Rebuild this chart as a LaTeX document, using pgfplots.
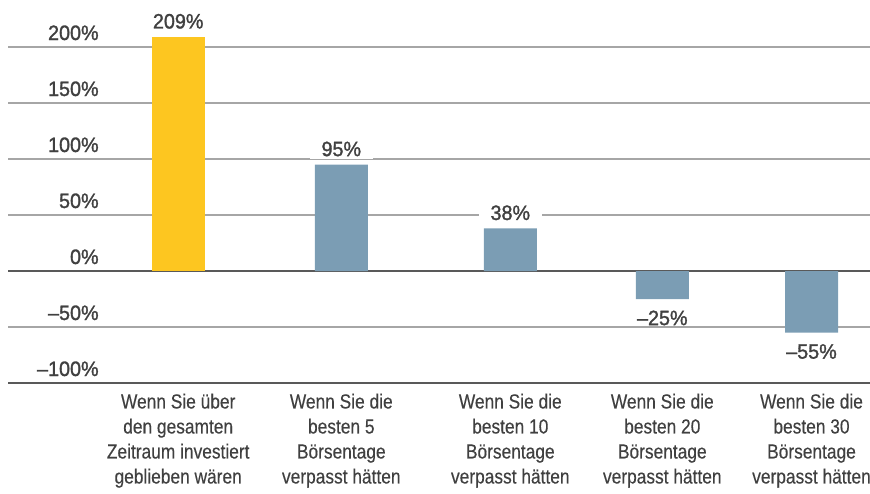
\documentclass[border=0pt]{standalone}
\usepackage{pgfplots}
\pgfplotsset{compat=1.18}
\usepackage{fontspec}
\setmainfont{Liberation Sans}
\newfontfamily\catfont{Liberation Sans}[FakeStretch=0.85, FakeBold=0.3]
\newfontfamily\numfont{Liberation Sans}[FakeBold=1.4, FakeStretch=0.95]
\definecolor{txt}{HTML}{404040}
\definecolor{gold}{HTML}{FDC620}
\definecolor{steel}{HTML}{7B9DB4}
\definecolor{gridc}{HTML}{A6A6A6}
\definecolor{zeroc}{HTML}{595959}
\begin{document}
\begin{tikzpicture}
\useasboundingbox (-6pt,-82.5pt) rectangle (646.5pt,287.25pt);
\begin{axis}[
  scale only axis, width=646.5pt, height=252pt,
  xmin=8, xmax=870, ymin=-100, ymax=200,
  axis line style={draw=none},
  major tick length=0pt,
  ytick={-100,-50,0,50,100,150,200},
  yticklabels={–100\%,–50\%,0\%,50\%,100\%,150\%,200\%},
  ymajorgrids, grid style={gridc, line width=1pt},
  extra y ticks={-100,0}, extra y tick labels={},
  extra y tick style={grid style={zeroc, line width=1.1pt}},
  xtick={178.2,341.3,510.3,662.3,811.5},
  xticklabels={{Wenn Sie über\\den gesamten\\Zeitraum investiert\\geblieben wären},
               {Wenn Sie die\\besten 5\\Börsentage\\verpasst hätten},
               {Wenn Sie die\\besten 10\\Börsentage\\verpasst hätten},
               {Wenn Sie die\\besten 20\\Börsentage\\verpasst hätten},
               {Wenn Sie die\\besten 30\\Börsentage\\verpasst hätten}},
  yticklabel style={font=\numfont\fontsize{15.6}{18}\selectfont, text=txt, anchor=base east, xshift=71.5pt, yshift=5.25pt},
  xticklabel style={font=\catfont\fontsize{15.3}{18.75}\selectfont, text=txt, align=center, anchor=north, yshift=-4.5pt},
  ybar, bar width=53, bar shift=0pt,
  clip=false,
  point meta=explicit symbolic,
  nodes near coords,
  every node near coord/.append style={font=\numfont\fontsize{15.6}{18}\selectfont, text=txt, fill=white, inner xsep=9pt},
]
\addplot[fill=gold, draw=none, nodes near coords style={anchor=south, inner ysep=2pt, yshift=4pt}]
  coordinates {(178.2,209)[209\%]};
\addplot[fill=steel, draw=none, nodes near coords style={anchor=south, inner ysep=2pt, yshift=4pt}]
  coordinates {(341.3,95)[95\%] (510.3,38)[38\%]};
\addplot[fill=steel, draw=none, nodes near coords style={anchor=north, inner ysep=0.5pt, yshift=-8pt}]
  coordinates {(662.3,-25)[–25\%] (811.5,-55)[–55\%]};
\end{axis}
\end{tikzpicture}
\end{document}
